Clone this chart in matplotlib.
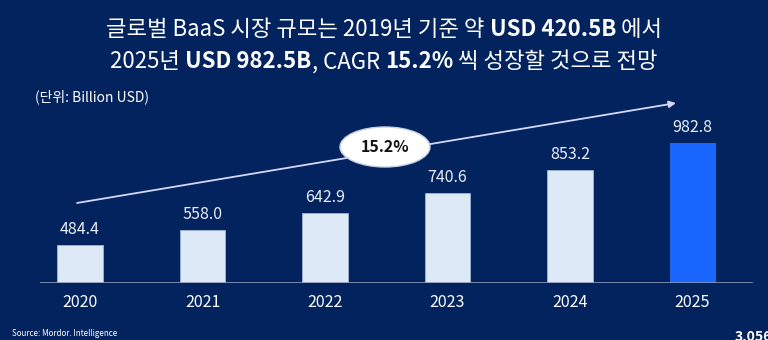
import matplotlib
matplotlib.use('Agg')
import matplotlib.pyplot as plt
from matplotlib.patches import Ellipse
from matplotlib.offsetbox import TextArea, HPacker, AnnotationBbox
import numpy as np

plt.rcParams['font.family'] = ['Noto Sans CJK KR', 'DejaVu Sans']

years = ['2020', '2021', '2022', '2023', '2024', '2025']
market = [484.4, 558.0, 642.9, 740.6, 853.2, 982.8]
cagr_label = '15.2%'

bg = '#03235e'
light = '#dde9f6'
highlight = '#1966ff'

fig = plt.figure(figsize=(7.68, 3.4), dpi=100)
fig.patch.set_facecolor(bg)

# axes placed so that bars line up with the reference layout
ax = fig.add_axes([40/768, 57/340, 713/768, 183/340])
ax.set_facecolor(bg)

base = 300
x = np.arange(len(years))
colors = [light] * (len(years) - 1) + [highlight]
edges = ['#9fb4d6'] * (len(years) - 1) + ['#2a6cf0']
heights = [v - base for v in market]
ax.bar(x, heights, 0.375, bottom=base, color=colors, edgecolor=edges,
       linewidth=0.6, zorder=2)

ax.set_xlim(-0.3265, 5.494)
ax.set_ylim(base, 1194)

for xi, v in zip(x, market):
    ax.annotate('{:.1f}'.format(v), xy=(xi, v), xytext=(0, 5),
                textcoords='offset points', ha='center', va='bottom',
                color='#e8eef8', fontsize=11.5)

ax.axhline(base, color='#8a98b8', linewidth=1.2, zorder=3)

for s in ax.spines.values():
    s.set_visible(False)
ax.set_yticks([])
ax.set_xticks(x)
ax.set_xticklabels(years, color='white', fontsize=11.5)
ax.tick_params(axis='x', length=0, pad=8)

# growth arrow
ax.annotate('', xy=(4.865, 1179), xytext=(-0.024, 691),
            arrowprops=dict(arrowstyle='-|>', color='#d4d8f5', lw=1.3,
                            mutation_scale=10, shrinkA=0, shrinkB=0),
            zorder=4)

ell = Ellipse((385/768, 1 - 147/340), 90/768, 40/340,
              transform=fig.transFigure, facecolor='white',
              edgecolor='#c8d0e8', linewidth=1, zorder=5)
fig.add_artist(ell)
fig.text(385/768, 1 - 147/340, cagr_label, ha='center', va='center',
         fontsize=11.5, fontweight='bold', color='#111111', zorder=6)


def title_line(parts, y):
    boxes = [TextArea(t, textprops=dict(color='white', fontsize=16,
                                        fontweight='bold' if b else 'normal'))
             for t, b in parts]
    pack = HPacker(children=boxes, align='baseline', pad=0, sep=0)
    ab = AnnotationBbox(pack, (0.5, y), xycoords='figure fraction',
                        frameon=False, box_alignment=(0.5, 0.5))
    fig.add_artist(ab)


title_line([('글로벌 BaaS 시장 규모는 2019년 기준 약 ', False),
            ('USD 420.5B', True), (' 에서', False)], 1 - 29/340)
title_line([('2025년 ', False), ('USD 982.5B', True), (', CAGR ', False),
            ('15.2%', True), (' 씩 성장할 것으로 전망', False)], 1 - 62/340)

fig.text(35/768, 1 - 97/340, '(단위: Billion USD)', ha='left', va='center',
         color='white', fontsize=10)
fig.text(12/768, 1 - 333/340, 'Source: Mordor. Intelligence', ha='left',
         va='center', color='white', fontsize=5.8)
fig.text(735/768, -4/340, '3,056', ha='left', va='bottom', color='white',
         fontsize=10, fontweight='bold')

fig.savefig('out.png', dpi=100, facecolor=bg)
